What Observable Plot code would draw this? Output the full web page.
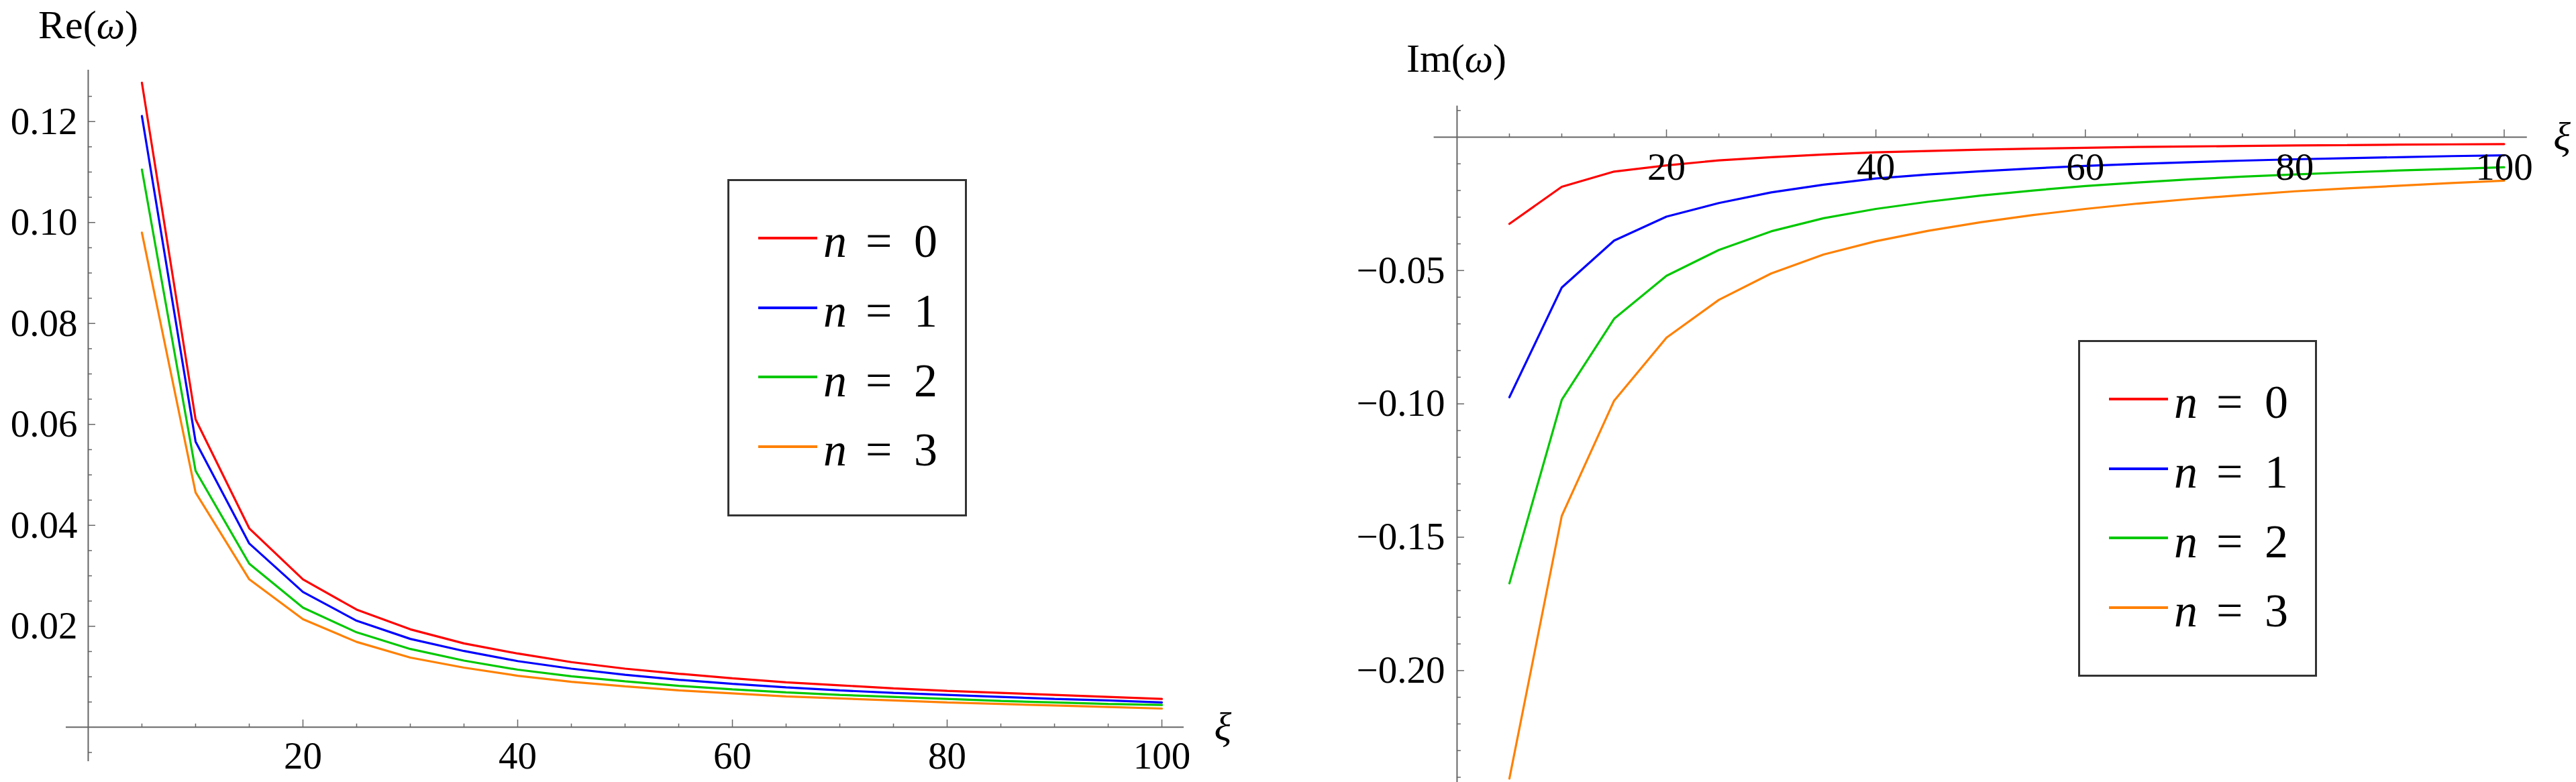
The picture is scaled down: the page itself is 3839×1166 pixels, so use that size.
<!DOCTYPE html>
<html>
<head>
<meta charset="utf-8">
<script src="https://cdn.jsdelivr.net/npm/d3@7"></script>
<script src="https://cdn.jsdelivr.net/npm/@observablehq/plot@0.6"></script>
<style>
  html, body { margin: 0; padding: 0; background: #fff; }
  #root { position: relative; width: 3839px; height: 1166px; overflow: hidden; font-family: "Liberation Serif", "DejaVu Serif", serif; color: #000; }
  .panel { position: absolute; top: 0; }
  .title { position: absolute; font-size: 60px; line-height: 60px; white-space: nowrap; }
  .legend { position: absolute; box-sizing: border-box; border: 3px solid #333; background: #fff; }
  .legend .sw { position: absolute; height: 4px; }
  .legend .t { position: absolute; font-size: 70px; line-height: 70px; white-space: nowrap; }
</style>
</head>
<body>
<div id="root"></div>
<script>
// ---- data ----
const xi = [5, 10, 15, 20, 25, 30, 35, 40, 45, 50, 55, 60, 65, 70, 75, 80, 85, 90, 95, 100];

const reN0 = [0.1277, 0.0610, 0.0394, 0.0293, 0.0233, 0.0194, 0.0166, 0.0146, 0.0129, 0.0116, 0.0106, 0.0097, 0.0089, 0.0083, 0.0077, 0.0072, 0.0068, 0.0064, 0.0060, 0.0056];
const reN1 = [0.1211, 0.0566, 0.0364, 0.0268, 0.0211, 0.0175, 0.0151, 0.0131, 0.0116, 0.0104, 0.0094, 0.0086, 0.0079, 0.0073, 0.0068, 0.0064, 0.0060, 0.0056, 0.0053, 0.0049];
const reN2 = [0.1105, 0.0508, 0.0324, 0.0237, 0.0188, 0.0155, 0.0132, 0.0114, 0.0101, 0.0091, 0.0082, 0.0075, 0.0069, 0.0064, 0.0060, 0.0056, 0.0052, 0.0049, 0.0046, 0.0044];
const reN3 = [0.0980, 0.0465, 0.0293, 0.0214, 0.0169, 0.0138, 0.0118, 0.0102, 0.0090, 0.0081, 0.0073, 0.0067, 0.0061, 0.0057, 0.0053, 0.0049, 0.0046, 0.0043, 0.0040, 0.0037];

const imN0 = [-0.0325, -0.0186, -0.0129, -0.0106, -0.0087, -0.0075, -0.0065, -0.0057, -0.0052, -0.0047, -0.0043, -0.0040, -0.0037, -0.0035, -0.0033, -0.0031, -0.0030, -0.0028, -0.0027, -0.0026];
const imN1 = [-0.0975, -0.0564, -0.0388, -0.0298, -0.0247, -0.0207, -0.0178, -0.0155, -0.0140, -0.0128, -0.0117, -0.0108, -0.0100, -0.0094, -0.0088, -0.0083, -0.0079, -0.0075, -0.0071, -0.0068];
const imN2 = [-0.1673, -0.0985, -0.0681, -0.0520, -0.0423, -0.0353, -0.0304, -0.0269, -0.0242, -0.0219, -0.0200, -0.0183, -0.0170, -0.0158, -0.0148, -0.0140, -0.0132, -0.0125, -0.0119, -0.0113];
const imN3 = [-0.2405, -0.1420, -0.0988, -0.0752, -0.0610, -0.0511, -0.0440, -0.0390, -0.0351, -0.0319, -0.0292, -0.0269, -0.0249, -0.0232, -0.0217, -0.0203, -0.0192, -0.0182, -0.0172, -0.0163];

const seriesN = ["0", "1", "2", "3"];
const seriesColors = ["#ff0000", "#0000ff", "#00c800", "#ff8000"];

const xMajorTicks = [20, 40, 60, 80, 100];
const xMinorTicks = [5, 10, 15, 25, 30, 35, 45, 50, 55, 65, 70, 75, 85, 90, 95];
const reMajorTicks = [0.02, 0.04, 0.06, 0.08, 0.10, 0.12];
const imMajorTicks = [-0.05, -0.10, -0.15, -0.20];

// minor ticks (every 0.005 for Re, every 0.01 for Im), skipping majors
const reMinorTicks = d3.range(-1, 26).map(k => k * 0.005).filter(v => Math.abs(v) > 1e-9 && !reMajorTicks.some(m => Math.abs(m - v) < 1e-9));
const imMinorTicks = d3.range(-24, 2).map(k => k * 0.01).filter(v => Math.abs(v) > 1e-9 && !imMajorTicks.some(m => Math.abs(m - v) < 1e-9));

const tidy = (arrays) => arrays.flatMap((arr, s) => arr.map((v, i) => ({xi: xi[i], v, n: seriesN[s]})));
const reData = tidy([reN0, reN1, reN2, reN3]);
const imData = tidy([imN0, imN1, imN2, imN3]);

const axisColor = "#666";
const fmt = d3.format(".2f");

function panel(cfg) {
  return Plot.plot({
    width: cfg.width, height: 1166,
    marginLeft: cfg.ml, marginRight: cfg.mr, marginTop: cfg.mt, marginBottom: cfg.mb,
    x: {domain: cfg.xDomain, axis: null},
    y: {domain: cfg.yDomain, axis: null},
    color: {domain: seriesN, range: seriesColors},
    style: {background: "transparent", fontFamily: '"Liberation Serif", "DejaVu Serif", serif', overflow: "visible"},
    marks: [
      Plot.ruleY([0], {stroke: axisColor, strokeWidth: 2}),
      Plot.ruleX([0], {stroke: axisColor, strokeWidth: 2}),
      Plot.ruleX(xMinorTicks, {x: d => d, y1: 0, y2: 0, insetTop: -5, stroke: axisColor, strokeWidth: 1.5}),
      Plot.ruleX(xMajorTicks, {x: d => d, y1: 0, y2: 0, insetTop: -11, stroke: axisColor, strokeWidth: 1.5}),
      Plot.ruleY(cfg.yMinor, {y: d => d, x1: 0, x2: 0, insetRight: -6, stroke: axisColor, strokeWidth: 1.5}),
      Plot.ruleY(cfg.yMajor, {y: d => d, x1: 0, x2: 0, insetRight: -11, stroke: axisColor, strokeWidth: 1.5}),
      Plot.line(cfg.data, {x: "xi", y: "v", z: "n", stroke: "n", strokeWidth: 3.2, strokeLinejoin: "miter"}),
      Plot.text(xMajorTicks, {x: d => d, y: 0, text: d => String(d), lineAnchor: "top", dy: cfg.xLabelDy, fontSize: 57, fill: "#000"}),
      Plot.text(cfg.yMajor, {x: 0, y: d => d, text: d => fmt(d), textAnchor: "end", dx: cfg.yLabelDx, fontSize: 57, fill: "#000"}),
      Plot.text(["ξ"], {frameAnchor: "right", y: 0, text: d => d, textAnchor: "start", dx: cfg.xiDx, fontSize: 60, fontStyle: "italic", fill: "#000"})
    ]
  });
}

const root = document.getElementById("root");

const left = panel({
  width: 1920, ml: 98, mr: 156, mt: 104, mb: 31,
  xDomain: [-2.06, 102.06], yDomain: [-0.0068, 0.1302],
  yMajor: reMajorTicks, yMinor: reMinorTicks, data: reData,
  xLabelDy: 21, yLabelDx: -16, xiDx: 45
});
left.classList.add("panel");
left.style.left = "0px";
root.appendChild(left);

const right = panel({
  width: 1919, ml: 216.6, mr: 73.2, mt: 157.6, mb: 0,
  xDomain: [-2.2, 102.2], yDomain: [-0.2419, 0.01167],
  yMajor: imMajorTicks, yMinor: imMinorTicks, data: imData,
  xLabelDy: 23, yLabelDx: -18, xiDx: 39
});
right.classList.add("panel");
right.style.left = "1920px";
root.appendChild(right);

// titles
function addTitle(prefix, left, baseline) {
  const d = document.createElement("div");
  d.className = "title";
  d.style.left = left + "px";
  d.style.top = (baseline - 50.3) + "px";
  d.innerHTML = prefix + "(<i>ω</i>)";
  root.appendChild(d);
}
addTitle("Re", 57, 57);
addTitle("Im", 2096, 107);

// legends
function addLegend(boxLeft, boxTop, w, h) {
  const box = document.createElement("div");
  box.className = "legend";
  box.style.left = boxLeft + "px";
  box.style.top = boxTop + "px";
  box.style.width = w + "px";
  box.style.height = h + "px";
  const b = 3;
  seriesN.forEach((n, i) => {
    const lineY = 88 + i * 103.6;
    const base = 117 + i * 103.6;
    const sw = document.createElement("div");
    sw.className = "sw";
    sw.style.left = (46 - b) + "px";
    sw.style.width = "88px";
    sw.style.top = (lineY - 2 - b) + "px";
    sw.style.background = seriesColors[i];
    box.appendChild(sw);
    const parts = [["<i>n</i>", 143], ["=", 206], [n, 278]];
    parts.forEach(([html, x]) => {
      const s = document.createElement("span");
      s.className = "t";
      s.innerHTML = html;
      s.style.left = (x - b) + "px";
      s.style.top = (base - 58.6 - b) + "px";
      box.appendChild(s);
    });
  });
  root.appendChild(box);
}
addLegend(1084, 267, 357, 503);
addLegend(3097, 507, 356, 502);
</script>
</body>
</html>
